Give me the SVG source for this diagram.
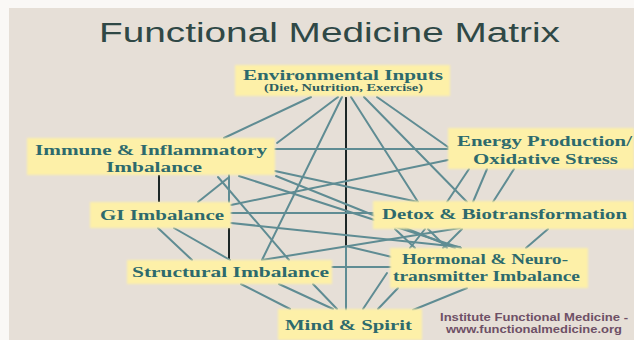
<svg xmlns="http://www.w3.org/2000/svg" width="634" height="340" viewBox="0 0 634 340">
  <style>
    .box { fill: #fdf0a8; }
    .lbl { font-family: "Liberation Serif", "Times New Roman", serif; font-weight: bold; font-size: 15px; fill: #2d6a6d; }
    .sub { font-family: "Liberation Serif", "Times New Roman", serif; font-weight: bold; font-size: 9.5px; fill: #2d5d60; }
    .title { font-family: "Liberation Sans", Arial, sans-serif; font-size: 27px; fill: #2f4846; }
    .credit { font-family: "Liberation Sans", Arial, sans-serif; font-weight: bold; font-size: 10px; fill: #6e5066; }
    .c { stroke: #5f8c93; stroke-width: 2; fill: none; stroke-linecap: round; }
    .k { stroke: #1c2626; stroke-width: 2; fill: none; }
  </style>
  <defs>
    <filter id="soft" x="-5%" y="-20%" width="110%" height="140%">
      <feGaussianBlur stdDeviation="0.8"/>
    </filter>
  </defs>

  <rect x="0" y="0" width="634" height="340" fill="#faf8f6"/>
  <rect x="9" y="8" width="625" height="332" fill="#e6dfd7"/>

  <text class="title" x="99" y="42" textLength="461" lengthAdjust="spacingAndGlyphs">Functional Medicine Matrix</text>

  <g id="connectors">
    <line class="c" x1="311" y1="97" x2="224" y2="138"/>
    <line class="c" x1="338" y1="97" x2="277" y2="143"/>
    <line class="c" x1="342" y1="97" x2="262" y2="260"/>
    <line class="k" x1="346" y1="97" x2="346" y2="247"/>
    <line class="c" x1="346" y1="247" x2="346" y2="310"/>
    <line class="c" x1="351" y1="97" x2="418" y2="202"/>
    <line class="c" x1="364" y1="97" x2="467" y2="202"/>
    <line class="c" x1="377" y1="97" x2="448" y2="147"/>
    <line class="c" x1="275" y1="149" x2="448" y2="149"/>
    <line class="c" x1="231" y1="205" x2="448" y2="160"/>
    <line class="c" x1="275" y1="171" x2="418" y2="202"/>
    <line class="c" x1="276" y1="176" x2="455" y2="248"/>
    <line class="c" x1="239" y1="176" x2="461" y2="248"/>
    <line class="c" x1="218" y1="177" x2="289" y2="260"/>
    <line class="c" x1="198" y1="202" x2="228" y2="178"/>
    <line class="c" x1="229" y1="175" x2="229" y2="202"/>
    <line class="k" x1="229" y1="228" x2="229" y2="260"/>
    <line class="k" x1="159" y1="175" x2="159" y2="202"/>
    <line class="c" x1="231" y1="213" x2="373" y2="213"/>
    <line class="c" x1="231" y1="223" x2="460" y2="247"/>
    <line class="c" x1="158" y1="228" x2="192" y2="260"/>
    <line class="c" x1="174" y1="228" x2="230" y2="260"/>
    <line class="c" x1="262" y1="260" x2="460" y2="228"/>
    <line class="c" x1="346" y1="246" x2="392" y2="257"/>
    <line class="c" x1="332" y1="267" x2="392" y2="267"/>
    <line class="c" x1="469" y1="169" x2="447" y2="202"/>
    <line class="c" x1="487" y1="169" x2="473" y2="202"/>
    <line class="c" x1="514" y1="169" x2="493" y2="202"/>
    <line class="c" x1="548" y1="229" x2="526" y2="248"/>
    <line class="c" x1="395" y1="229" x2="415" y2="248"/>
    <line class="c" x1="425" y1="229" x2="410" y2="248"/>
    <line class="c" x1="428" y1="229" x2="447" y2="248"/>
    <line class="c" x1="462" y1="229" x2="443" y2="248"/>
    <line class="c" x1="241" y1="284" x2="290" y2="309"/>
    <line class="c" x1="279" y1="284" x2="333" y2="309"/>
    <line class="c" x1="313" y1="284" x2="337" y2="309"/>
    <line class="c" x1="387" y1="273" x2="363" y2="309"/>
    <line class="c" x1="398" y1="288" x2="378" y2="309"/>
    <line class="c" x1="467" y1="288" x2="413" y2="310"/>
  </g>

  <g id="environmental">
    <rect class="box" x="235" y="65" width="215" height="31" filter="url(#soft)"/>
    <text class="lbl" x="243" y="80" font-size="16" textLength="200" lengthAdjust="spacingAndGlyphs">Environmental Inputs</text>
    <text class="sub" x="264" y="91" textLength="159" lengthAdjust="spacingAndGlyphs">(Diet, Nutrition, Exercise)</text>
  </g>

  <g id="immune">
    <rect class="box" x="27" y="138" width="248" height="37" filter="url(#soft)"/>
    <text class="lbl" x="35" y="155" textLength="232" lengthAdjust="spacingAndGlyphs">Immune &amp; Inflammatory</text>
    <text class="lbl" x="106" y="172" textLength="96" lengthAdjust="spacingAndGlyphs">Imbalance</text>
  </g>

  <g id="energy">
    <rect class="box" x="448" y="128" width="186" height="41" filter="url(#soft)"/>
    <text class="lbl" x="457" y="146" textLength="175" lengthAdjust="spacingAndGlyphs">Energy Production/</text>
    <text class="lbl" x="473" y="164" textLength="145" lengthAdjust="spacingAndGlyphs">Oxidative Stress</text>
  </g>

  <g id="gi">
    <rect class="box" x="90" y="202" width="141" height="26" filter="url(#soft)"/>
    <text class="lbl" x="100" y="220" textLength="124" lengthAdjust="spacingAndGlyphs">GI Imbalance</text>
  </g>

  <g id="detox">
    <rect class="box" x="373" y="201" width="261" height="28" filter="url(#soft)"/>
    <text class="lbl" x="382" y="219" textLength="245" lengthAdjust="spacingAndGlyphs" fill="#1f4e4c">Detox &amp; Biotransformation</text>
  </g>

  <g id="structural">
    <rect class="box" x="127" y="260" width="205" height="24" filter="url(#soft)"/>
    <text class="lbl" x="132" y="277" textLength="197" lengthAdjust="spacingAndGlyphs">Structural Imbalance</text>
  </g>

  <g id="hormonal">
    <rect class="box" x="390" y="248" width="198" height="40" filter="url(#soft)"/>
    <text class="lbl" x="402" y="264" textLength="166" lengthAdjust="spacingAndGlyphs">Hormonal &amp; Neuro-</text>
    <text class="lbl" x="393" y="281" textLength="187" lengthAdjust="spacingAndGlyphs">transmitter Imbalance</text>
  </g>

  <g id="mind">
    <rect class="box" x="278" y="309" width="144" height="31" filter="url(#soft)"/>
    <text class="lbl" x="285" y="330" textLength="127" lengthAdjust="spacingAndGlyphs">Mind &amp; Spirit</text>
  </g>

  <g id="credit">
    <text class="credit" x="440" y="321" textLength="188" lengthAdjust="spacingAndGlyphs">Institute Functional Medicine -</text>
    <text class="credit" x="446" y="333" textLength="176" lengthAdjust="spacingAndGlyphs">www.functionalmedicine.org</text>
  </g>
</svg>
